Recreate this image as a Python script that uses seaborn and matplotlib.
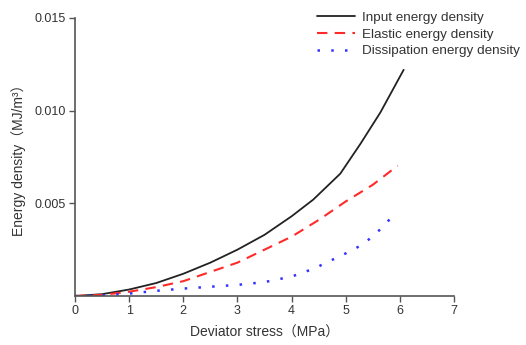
#!/usr/bin/env python3
"""Energy density vs deviator stress: input, elastic and dissipation curves."""

import matplotlib
matplotlib.use("Agg")
import matplotlib.pyplot as plt
import pandas as pd
import seaborn as sns

# Values
input_stress = [0, 0.5, 1.0, 1.5, 2.0, 2.5, 3.0, 3.5, 4.0, 4.4, 4.9, 5.27, 5.64, 6.07]
input_energy = [0, 0.0001, 0.00035, 0.0007, 0.0012, 0.0018, 0.0025, 0.0033,
                0.0043, 0.0052, 0.0066, 0.0082, 0.0099, 0.0122]

elastic_stress = [0, 0.5, 1.0, 1.5, 2.0, 2.5, 3.0, 3.5, 4.0, 4.5, 5.0, 5.5, 5.96]
elastic_energy = [0, 0.00006, 0.00023, 0.00048, 0.0008, 0.0013, 0.0018,
                  0.0025, 0.0032, 0.0041, 0.0051, 0.006, 0.00703]

dissip_stress = [0, 0.5, 1.0, 1.5, 2.0, 2.5, 3.0, 3.5, 4.0, 4.25, 4.5, 5.0,
                 5.33, 5.64, 5.93]
dissip_energy = [0, 0.00003, 0.00013, 0.00028, 0.0004, 0.0005, 0.0006, 0.00075,
                 0.00105, 0.0013, 0.0016, 0.0023, 0.0028, 0.0036, 0.0045]

x_ticks = [0, 1, 2, 3, 4, 5, 6, 7]
y_ticks = [0.005, 0.010, 0.015]

sns.set_theme(style="ticks")
plt.rcParams["font.family"] = ["Liberation Sans", "Noto Sans CJK SC"]
TEXT = "#333333"
SPINE = "#555555"


def main():
    fig = plt.figure(figsize=(5.26, 3.45), dpi=100)
    ax = fig.add_axes([0.1426, 0.142, 0.7205, 0.806])

    series = [
        (input_stress, input_energy, "Input energy density",
         dict(color="#222222", linestyle="-", linewidth=1.3)),
        (elastic_stress, elastic_energy, "Elastic energy density",
         dict(color="#ff2a2a", linestyle=(0, (5, 3.5)), linewidth=1.5)),
        (dissip_stress, dissip_energy, "Dissipation energy density",
         dict(color="#3333ff", linestyle=(0, (1, 4.5)), linewidth=1.8)),
    ]
    for xs, ys, label, style in series:
        df = pd.DataFrame({"x": xs, "y": ys})
        sns.lineplot(data=df, x="x", y="y", ax=ax, label=label, **style)

    ax.set_xlim(0, 7)
    ax.set_ylim(0, 0.015)
    ax.set_xticks(x_ticks)
    ax.set_xticklabels([str(t) for t in x_ticks])
    ax.set_yticks(y_ticks)
    ax.set_yticklabels([f"{t:.3f}" for t in y_ticks])
    ax.tick_params(direction="out", length=4, width=1, pad=2.5, colors=SPINE,
                   labelcolor=TEXT, labelsize=9)
    for side in ("top", "right"):
        ax.spines[side].set_visible(False)
    for side in ("left", "bottom"):
        ax.spines[side].set_color(SPINE)
        ax.spines[side].set_linewidth(1.2)

    ax.set_xlabel("Deviator stress（MPa）", fontsize=10, color=TEXT, labelpad=6)
    ax.set_ylabel("Energy density（MJ/m³）", fontsize=10, color=TEXT, labelpad=6)

    handles, labels = ax.get_legend_handles_labels()
    ax.get_legend().remove()
    fig.legend(handles, labels, loc="upper right", bbox_to_anchor=(1.003, 0.99),
               frameon=False, fontsize=9.7, handlelength=2.8, handletextpad=0.5,
               labelspacing=0.32, borderaxespad=0.2, labelcolor=TEXT)

    fig.savefig("out.png", dpi=100)
    plt.close(fig)


if __name__ == "__main__":
    main()
